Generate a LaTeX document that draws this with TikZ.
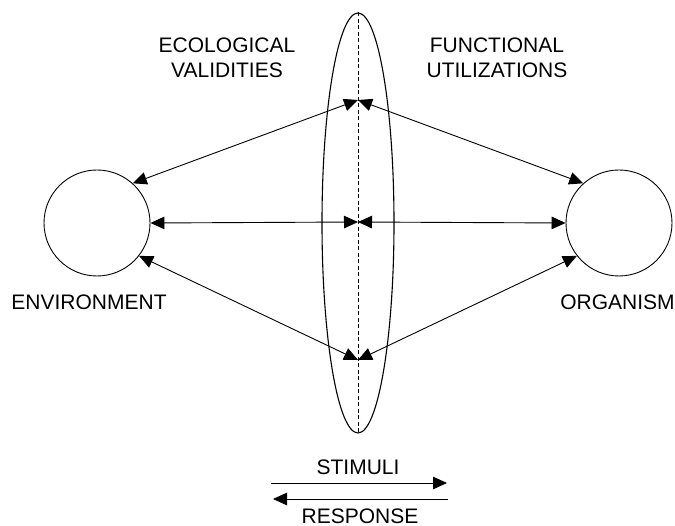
\documentclass[tikz,border=0pt]{standalone}
\usepackage{fontspec}
\setmainfont{Liberation Sans}
\usetikzlibrary{arrows.meta,shapes.geometric}
\begin{document}
\begin{tikzpicture}[x=1pt,y=-1pt,
  line width=0.9pt,
  tip/.tip={Triangle[length=14pt,width=12.5pt]},
  link/.style={{tip}-{tip}},
  lbl/.style={font=\fontsize{21}{25}\selectfont, inner sep=0pt, align=center},
  blob/.style={draw, circle, minimum size=106pt, inner sep=0pt}]
\useasboundingbox (0,0) rectangle (675,526);
\node[blob] (env) at (97,223) {};
\node[blob] (org) at (619,223) {};
\node[draw, ellipse, minimum width=72pt, minimum height=420pt, inner sep=0pt, line width=1.1pt] (lens) at (358,223) {};
\draw[dash pattern=on 4pt off 2.5pt, line width=0.7pt] (lens.north) -- (lens.south);
\coordinate (jt) at (358,100);
\coordinate (jm) at (358,222);
\coordinate (jb) at (358,360);
\draw[link] (env.48) -- (jt);
\draw[link] (env.0) -- (jm);
\draw[link] (env.-38) -- (jb);
\draw[link] (org.132) -- (jt);
\draw[link] (org.180) -- (jm);
\draw[link] (org.218) -- (jb);
\node[lbl, anchor=base] (eco) at (227,78) {ECOLOGICAL\\VALIDITIES};
\node[lbl, anchor=base] (fun) at (497,78) {FUNCTIONAL\\UTILIZATIONS};
\node[lbl, anchor=base] (envl) at (89,310) {ENVIRONMENT};
\node[lbl, anchor=base] (orgl) at (617.5,310) {ORGANISM};
\node[lbl, anchor=base] (sti) at (358,475) {STIMULI};
\node[lbl, anchor=base] (res) at (360,523) {RESPONSE};
\coordinate (s1) at (271,483);
\coordinate (s2) at (447,483);
\coordinate (r1) at (448,499);
\coordinate (r2) at (273,499);
\draw[-{tip}] (s1) -- (s2);
\draw[-{tip}] (r1) -- (r2);
\end{tikzpicture}
\end{document}
